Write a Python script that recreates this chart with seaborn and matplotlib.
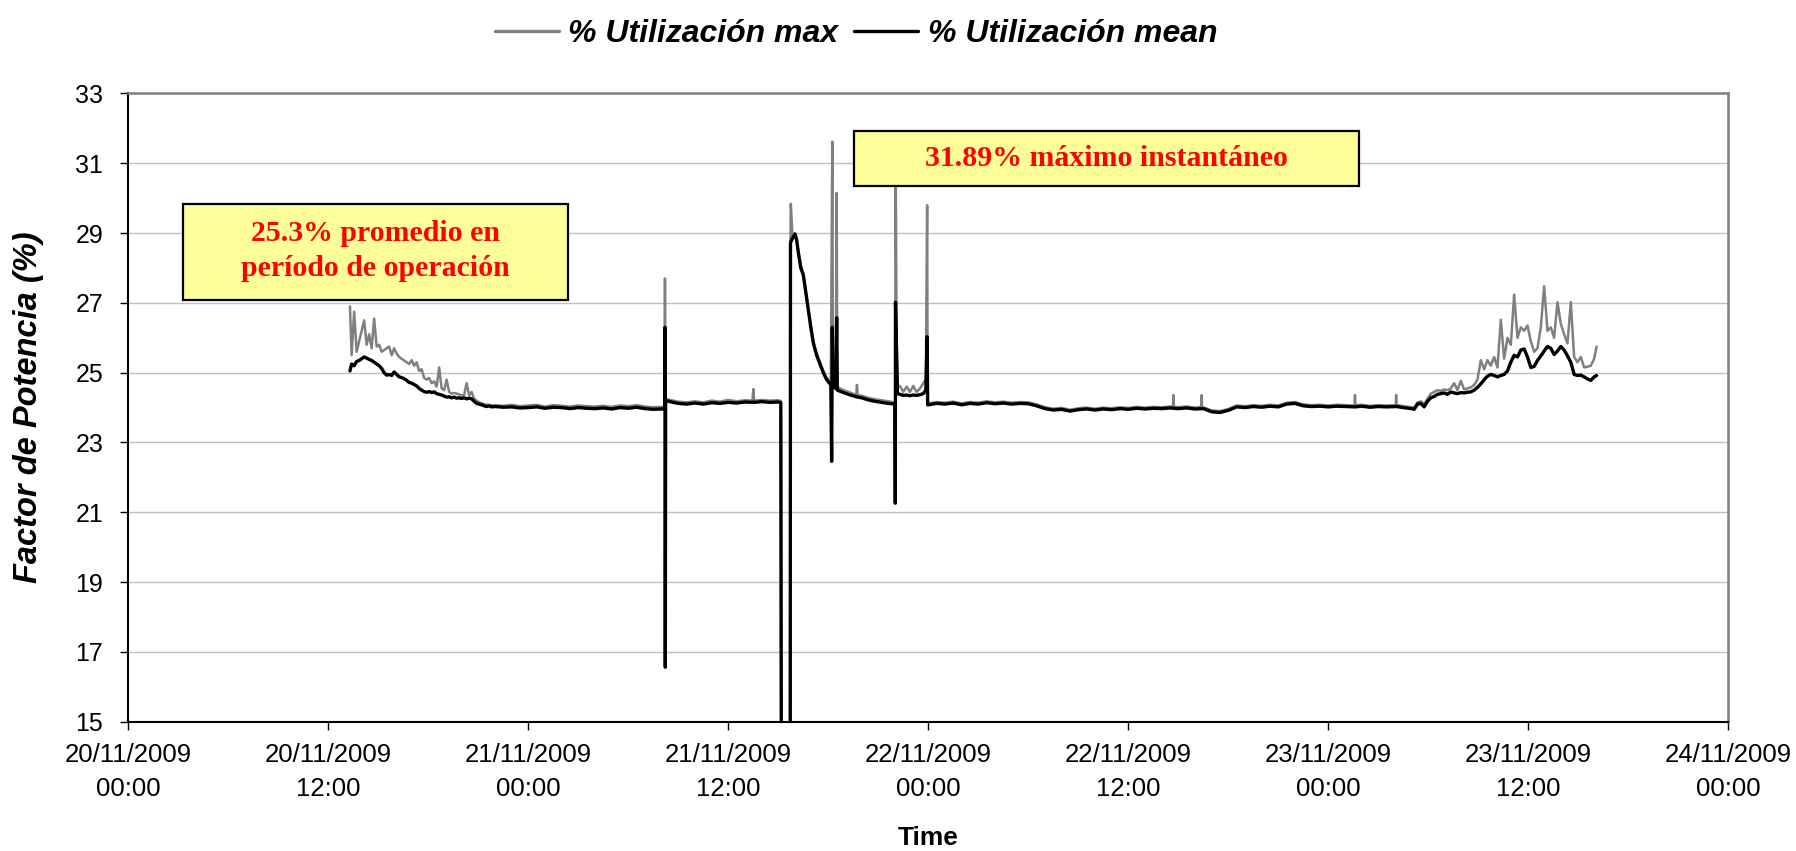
import matplotlib
matplotlib.use("Agg")
import matplotlib.pyplot as plt
import matplotlib.dates as mdates
from matplotlib.patches import Rectangle
from matplotlib.font_manager import FontProperties
import pandas as pd
import seaborn as sns

START = "2009-11-20 00:00"
LABEL_MAX = "% Utilización max"
LABEL_MEAN = "% Utilización mean"
Y_TICKS = [15, 17, 19, 21, 23, 25, 27, 29, 31, 33]
NOTE_LEFT = "25.3% promedio en\nperíodo de operación"
NOTE_RIGHT = "31.89% máximo instantáneo"

# hours since 20/11/2009 00:00
a_hours = [13.30, 13.40, 13.55, 13.70, 13.85, 14.00, 14.15, 14.30, 14.45, 14.60, 14.75, 14.90,
           15.05, 15.20, 15.35, 15.50, 15.65, 15.80, 15.95, 16.10, 16.25, 16.40, 16.55, 16.70,
           16.85, 17.00, 17.15, 17.30, 17.45, 17.60, 17.75, 17.90, 18.05, 18.20, 18.35, 18.50,
           18.65, 18.80, 18.95, 19.10, 19.25, 19.40, 19.55, 19.70, 19.85, 20.00, 20.15, 20.30,
           20.45, 20.60, 20.75, 20.90, 21.05, 21.20, 21.35, 21.50, 21.65, 21.80]
a_mean = [25.05, 25.25, 25.20, 25.32, 25.35, 25.40, 25.45, 25.42, 25.38, 25.35, 25.30, 25.25,
          25.20, 25.12, 25.00, 24.93, 24.95, 24.92, 25.02, 24.95, 24.88, 24.86, 24.83, 24.78,
          24.72, 24.70, 24.66, 24.62, 24.55, 24.50, 24.46, 24.44, 24.46, 24.43, 24.45, 24.40,
          24.38, 24.36, 24.33, 24.30, 24.31, 24.28, 24.30, 24.27, 24.28, 24.26, 24.28, 24.25,
          24.27, 24.25, 24.18, 24.12, 24.10, 24.08, 24.05, 24.03, 24.05, 24.02]
a_max = [26.90, 25.50, 26.75, 25.60, 25.90, 26.20, 26.50, 25.80, 26.10, 25.70, 26.55, 25.75,
         25.80, 25.60, 25.65, 25.70, 25.75, 25.50, 25.70, 25.55, 25.45, 25.40, 25.35, 25.30,
         25.25, 25.36, 25.20, 25.30, 25.05, 25.10, 24.85, 24.80, 24.85, 24.70, 24.75, 24.60,
         25.15, 24.55, 24.50, 24.80, 24.45, 24.40, 24.42, 24.40, 24.38, 24.35, 24.36, 24.70,
         24.35, 24.45, 24.25, 24.20, 24.15, 24.12, 24.10, 24.08, 24.08, 24.06]

b_hours = [22.0, 22.5, 23.0, 23.5, 24.0, 24.5, 25.0, 25.5, 26.0, 26.5, 27.0, 27.5, 28.0,
           28.5, 29.0, 29.5, 30.0, 30.5, 31.0, 31.5, 32.0, 32.18, 32.20, 32.22, 32.24]
b_mean = [24.03, 24.01, 24.02, 23.99, 24.00, 24.02, 23.98, 24.01, 24.00, 23.97, 24.00, 23.98, 23.97,
          23.99, 23.96, 24.00, 23.98, 24.01, 23.97, 23.95, 23.96, 23.97, 26.30, 16.56, 24.20]
b_max = [24.07, 24.05, 24.08, 24.04, 24.06, 24.08, 24.03, 24.07, 24.05, 24.03, 24.06, 24.04, 24.03,
         24.05, 24.02, 24.06, 24.04, 24.07, 24.03, 24.01, 24.02, 24.00, 27.70, 24.10, 24.25]

c_hours = [32.5, 33.0, 33.5, 34.0, 34.5, 35.0, 35.5, 36.0, 36.5, 37.0, 37.45, 37.5, 37.55,
           38.0, 38.5, 39.0, 39.15, 39.22, 39.70]
c_mean = [24.17, 24.12, 24.10, 24.13, 24.10, 24.14, 24.12, 24.15, 24.13, 24.16, 24.15, 24.16, 24.15,
          24.17, 24.15, 24.16, 24.14, 0.0, 0.0]
c_max = [24.22, 24.17, 24.15, 24.18, 24.15, 24.20, 24.17, 24.22, 24.18, 24.21, 24.20, 24.53, 24.20,
         24.22, 24.20, 24.21, 24.19, 0.0, 0.0]

d_hours = [39.73, 39.75, 39.85, 40.00, 40.10, 40.20, 40.35, 40.50, 40.65, 40.80, 40.95, 41.10,
           41.30, 41.50, 41.70, 41.90, 42.15, 42.20, 42.24, 42.28, 42.45, 42.50, 42.54,
           42.80, 43.20, 43.60, 43.68, 43.72, 43.76, 44.00, 44.40, 44.80, 45.20, 45.60, 45.95]
d_mean = [28.70, 28.75, 28.85, 28.97, 28.80, 28.45, 28.00, 27.80, 27.30, 26.80, 26.30, 25.85,
          25.50, 25.25, 25.00, 24.80, 24.65, 22.46, 26.30, 24.60, 24.55, 26.57, 24.50,
          24.45, 24.38, 24.32, 24.31, 24.31, 24.30, 24.28, 24.22, 24.18, 24.15, 24.12, 24.10]
d_max = [28.75, 29.84, 28.90, 29.00, 28.85, 28.50, 28.05, 27.85, 27.35, 26.85, 26.35, 25.90,
         25.55, 25.30, 25.05, 24.85, 24.75, 28.50, 31.62, 24.80, 24.70, 30.15, 24.60,
         24.52, 24.45, 24.38, 24.36, 24.65, 24.36, 24.34, 24.28, 24.24, 24.21, 24.18, 24.15]

e_hours = [46.00, 46.02, 46.03, 46.10, 46.15, 46.30, 46.50, 46.70, 46.90, 47.10, 47.30, 47.50,
           47.70, 47.85, 47.93, 47.96]
e_mean = [24.10, 21.26, 27.02, 25.50, 24.40, 24.38, 24.35, 24.36, 24.34, 24.36, 24.35, 24.37,
          24.40, 24.50, 26.03, 24.08]
e_max = [24.15, 24.20, 31.89, 26.00, 24.60, 24.62, 24.45, 24.60, 24.45, 24.62, 24.45, 24.55,
         24.70, 24.80, 29.80, 24.12]

f_hours = [48.0, 48.5, 49.0, 49.5, 50.0, 50.5, 51.0, 51.5, 52.0, 52.5, 53.0, 53.5, 54.0, 54.5,
           55.0, 55.5, 56.0, 56.5, 57.0, 57.5, 58.0, 58.5, 59.0, 59.5, 60.0, 60.5, 61.0, 61.5,
           62.0, 62.5, 63.0, 63.5, 64.0, 64.5, 65.0, 65.5, 66.0, 66.5, 67.0, 67.5, 68.0, 68.5,
           69.0, 69.5, 70.0, 70.5, 71.0, 71.5, 72.0, 72.5, 73.0, 73.5, 74.0, 74.5, 75.0, 75.5,
           76.0, 76.5, 77.0]
f_mean = [24.08, 24.12, 24.10, 24.13, 24.08, 24.12, 24.10, 24.14, 24.11, 24.13, 24.10, 24.12, 24.11, 24.05,
          23.97, 23.93, 23.95, 23.90, 23.94, 23.96, 23.93, 23.96, 23.94, 23.97, 23.95, 23.98, 23.96, 23.98,
          23.97, 23.99, 23.97, 23.99, 23.96, 23.97, 23.88, 23.86, 23.92, 24.02, 24.00, 24.03, 24.01, 24.04,
          24.02, 24.10, 24.12, 24.05, 24.03, 24.04, 24.02, 24.04, 24.03, 24.02, 24.04, 24.01, 24.03, 24.02,
          24.03, 24.00, 23.97]
f_max = [24.12, 24.16, 24.14, 24.17, 24.12, 24.16, 24.14, 24.18, 24.15, 24.17, 24.14, 24.16, 24.15, 24.09,
         24.01, 23.97, 23.99, 23.94, 23.98, 24.00, 23.97, 24.00, 23.98, 24.01, 23.99, 24.02, 24.00, 24.02,
         24.01, 24.03, 24.01, 24.03, 24.00, 24.01, 23.92, 23.90, 23.96, 24.06, 24.04, 24.07, 24.05, 24.08,
         24.06, 24.14, 24.16, 24.09, 24.07, 24.08, 24.06, 24.08, 24.07, 24.06, 24.08, 24.05, 24.07, 24.06,
         24.07, 24.04, 24.01]

# short spikes in the max series during the flat period
s_hours = [62.68, 62.70, 62.72, 64.38, 64.40, 64.42, 73.58, 73.60, 73.62, 76.05, 76.07, 76.09]
s_mean = [23.98, 23.98, 23.98, 23.97, 23.97, 23.97, 24.02, 24.02, 24.02, 24.03, 24.03, 24.03]
s_max = [24.03, 24.36, 24.03, 24.02, 24.36, 24.02, 24.07, 24.36, 24.07, 24.08, 24.36, 24.08]

g_hours = [77.15, 77.35, 77.55, 77.75, 77.95, 78.15, 78.35, 78.55, 78.75, 78.95, 79.15, 79.35,
           79.55, 79.75, 79.95, 80.15, 80.35, 80.55, 80.75, 80.95, 81.15, 81.35, 81.55, 81.75,
           81.95, 82.15, 82.35, 82.55, 82.75, 82.95, 83.15, 83.35, 83.55, 83.75, 83.95, 84.15,
           84.35, 84.55, 84.75, 84.95, 85.15, 85.35, 85.55, 85.75, 85.95, 86.15, 86.35, 86.55,
           86.75, 86.95, 87.15, 87.35, 87.55, 87.75, 87.95, 88.10]
g_mean = [23.95, 24.10, 24.12, 24.02, 24.18, 24.28, 24.32, 24.38, 24.40, 24.42, 24.38, 24.45,
          24.42, 24.40, 24.43, 24.42, 24.44, 24.45, 24.50, 24.58, 24.68, 24.80, 24.90, 24.95,
          24.92, 24.88, 24.92, 24.95, 25.05, 25.30, 25.50, 25.45, 25.65, 25.68, 25.45, 25.15,
          25.18, 25.35, 25.48, 25.62, 25.75, 25.70, 25.52, 25.62, 25.75, 25.65, 25.48, 25.30,
          24.95, 24.92, 24.93, 24.88, 24.82, 24.78, 24.88, 24.92]
g_max = [24.00, 24.15, 24.18, 24.10, 24.25, 24.40, 24.45, 24.50, 24.48, 24.52, 24.50, 24.55,
         24.70, 24.50, 24.77, 24.52, 24.55, 24.58, 24.65, 24.80, 25.36, 25.10, 25.36, 25.20,
         25.45, 25.15, 26.52, 25.40, 26.00, 25.80, 27.24, 26.00, 26.30, 26.20, 26.35, 25.90,
         25.60, 25.70, 26.30, 27.48, 26.20, 26.30, 26.00, 27.02, 26.40, 26.10, 25.84, 27.02,
         25.45, 25.30, 25.45, 25.15, 25.17, 25.20, 25.40, 25.75]

hours = a_hours + b_hours + c_hours + d_hours + e_hours + f_hours + s_hours + g_hours
mean_vals = a_mean + b_mean + c_mean + d_mean + e_mean + f_mean + s_mean + g_mean
max_vals = a_max + b_max + c_max + d_max + e_max + f_max + s_max + g_max

df = pd.DataFrame({"hours": hours, "mean": mean_vals, "max": max_vals}).sort_values("hours")
df["time"] = pd.Timestamp(START) + pd.to_timedelta(df["hours"], unit="h")

sns.set_theme(style="white")
plt.rcParams["font.family"] = ["Liberation Sans", "DejaVu Sans"]
for k in ["text.color", "axes.labelcolor", "xtick.color", "ytick.color"]:
    plt.rcParams[k] = "black"

fig = plt.figure(figsize=(17.96, 8.51), dpi=100)
ax = fig.add_axes([0.07144, 0.15194, 0.89087, 0.73819])

sns.lineplot(data=df, x="time", y="max", ax=ax, color="#808080", linewidth=1.8,
             label=LABEL_MAX, estimator=None, sort=False)
sns.lineplot(data=df, x="time", y="mean", ax=ax, color="black", linewidth=2.4,
             label=LABEL_MEAN, estimator=None, sort=False)

ax.set_xlim(pd.Timestamp("2009-11-20 00:00"), pd.Timestamp("2009-11-24 00:00"))
ax.set_ylim(15, 33)
ax.set_yticks(Y_TICKS)
ax.xaxis.set_major_locator(mdates.HourLocator(byhour=[0, 12]))
ax.xaxis.set_major_formatter(mdates.DateFormatter("%d/%m/%Y\n%H:%M"))
ax.yaxis.grid(True, color="#c0c0c0", linewidth=1.0)
ax.xaxis.grid(False)
ax.set_axisbelow(True)

for side in ["left", "bottom"]:
    ax.spines[side].set_color("black")
    ax.spines[side].set_linewidth(1.5)
for side in ["top", "right"]:
    ax.spines[side].set_color("#808080")
    ax.spines[side].set_linewidth(1.8)

ax.tick_params(axis="both", direction="out", length=6, width=1, color="black",
               bottom=True, left=True)
ax.tick_params(axis="x", labelsize=18.5, pad=9)
ax.tick_params(axis="y", labelsize=18, pad=12)
fig.canvas.draw()
for lbl in ax.get_xticklabels():
    lbl.set_horizontalalignment("center")
    lbl.set_linespacing(1.55)

ax.set_xlabel("Time", fontsize=19, fontweight="bold")
ax.xaxis.set_label_coords(0.5, -0.166)
ax.set_ylabel("Factor de Potencia (%)", fontsize=23.5, fontweight="bold", fontstyle="italic")
ax.yaxis.set_label_coords(-0.0526, 0.5)

leg_font = FontProperties(family="Liberation Sans", weight="bold", style="italic", size=23)
leg = ax.legend(loc="center", bbox_to_anchor=(0.4548, 1.0945), ncol=2, frameon=False,
                prop=leg_font, handlelength=2.0, handletextpad=0.3, columnspacing=0.5)
for h in leg.get_lines():
    h.set_linewidth(2.4)

# annotation boxes
ax.add_patch(Rectangle((0.0342, 0.671), 0.2406, 0.153, transform=ax.transAxes,
                       facecolor="#FFFF99", edgecolor="black", linewidth=1.6,
                       zorder=5, clip_on=False))
ax.text(0.1542, 0.7493, NOTE_LEFT, transform=ax.transAxes, ha="center", va="center",
        fontfamily="Liberation Serif", fontweight="bold", fontsize=21.5, color="#FF0000",
        linespacing=1.35, zorder=6)
ax.add_patch(Rectangle((0.4536, 0.853), 0.3156, 0.0876, transform=ax.transAxes,
                       facecolor="#FFFF99", edgecolor="black", linewidth=1.6,
                       zorder=5, clip_on=False))
ax.text(0.6114, 0.8973, NOTE_RIGHT, transform=ax.transAxes, ha="center", va="center",
        fontfamily="Liberation Serif", fontweight="bold", fontsize=21.5, color="#FF0000",
        zorder=6)

fig.savefig("out.png", dpi=100)
